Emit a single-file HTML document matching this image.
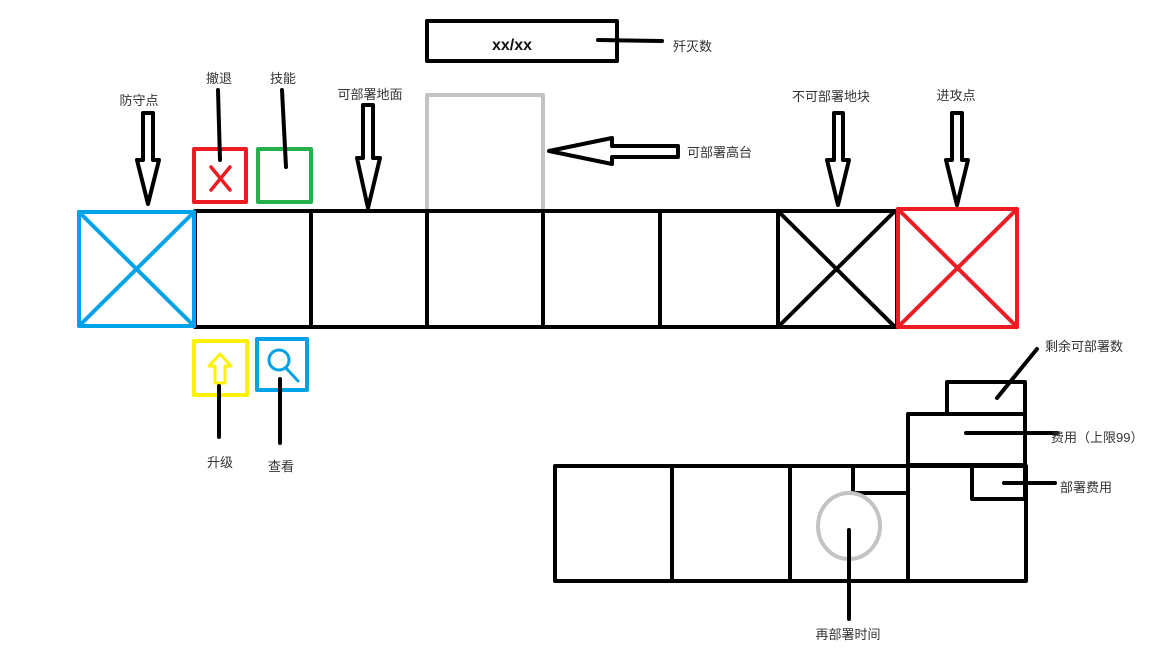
<!DOCTYPE html>
<html><head><meta charset="utf-8"><style>
html,body{margin:0;padding:0;background:#fff;width:1152px;height:648px;overflow:hidden}
text{font-family:"Liberation Sans","Noto Sans CJK SC",sans-serif;font-size:13px;fill:#333}
</style></head><body>
<svg width="1152" height="648" viewBox="0 0 1152 648">
<g fill="none" stroke-linecap="round" stroke-linejoin="round">
<!-- kill counter -->
<rect x="427" y="21" width="190" height="40" stroke="#000" stroke-width="4"/>
<line x1="598" y1="40" x2="662" y2="41" stroke="#000" stroke-width="4"/>
<!-- high platform -->
<rect x="427" y="95" width="116" height="116" stroke="#c3c3c3" stroke-width="4"/>
<polygon points="549,151 612,138 612,146 678,146 678,157 612,157 612,164" stroke="#000" stroke-width="4" fill="#fff"/>
<!-- main row -->
<g stroke="#000" stroke-width="4">
<rect x="195" y="211" width="702" height="116"/>
<line x1="311" y1="211" x2="311" y2="327"/><line x1="427" y1="211" x2="427" y2="327"/>
<line x1="543" y1="211" x2="543" y2="327"/><line x1="660" y1="211" x2="660" y2="327"/>
<line x1="778" y1="211" x2="778" y2="327"/>
<line x1="778" y1="211" x2="895" y2="327"/><line x1="895" y1="211" x2="778" y2="327"/>
</g>
<g stroke="#00a2e8" stroke-width="4">
<rect x="79" y="212" width="115" height="114"/><line x1="79" y1="212" x2="194" y2="326"/><line x1="194" y1="212" x2="79" y2="326"/>
</g>
<g stroke="#ed1c24" stroke-width="4">
<rect x="898" y="209" width="119" height="118"/><line x1="898" y1="209" x2="1017" y2="327"/><line x1="1017" y1="209" x2="898" y2="327"/>
</g>
<!-- buttons -->
<g stroke="#ed1c24" stroke-width="4">
<rect x="194" y="149" width="52" height="53"/><line x1="211" y1="167" x2="230" y2="190" stroke-width="3.5"/><line x1="230" y1="167" x2="211" y2="190" stroke-width="3.5"/>
</g>
<rect x="258" y="149" width="53" height="53" stroke="#22b14c" stroke-width="4"/>
<g stroke="#fff200" stroke-width="4">
<rect x="194" y="341" width="53" height="54"/><polygon points="220,354 231,366 225,366 225,383 215,383 215,366 209,366" stroke-width="3"/>
</g>
<g stroke="#00a2e8" stroke-width="4">
<rect x="257" y="339" width="50" height="51"/><circle cx="279" cy="360" r="10" stroke-width="3"/><line x1="286" y1="368" x2="298" y2="381" stroke-width="3"/>
</g>
<!-- pointer lines -->
<g stroke="#000" stroke-width="4">
<line x1="218" y1="90" x2="220" y2="160"/><line x1="282" y1="90" x2="286" y2="167"/>
<line x1="219" y1="386" x2="219" y2="437"/><line x1="280" y1="379" x2="280" y2="443"/>
</g>
<!-- down arrows -->
<g stroke="#000" stroke-width="4" fill="#fff">
<polygon points="143,113 153,113 153,160 159,160 148,204 137,160 143,160"/>
<polygon points="363,105 373,105 373,158 380,158 368,208 357,158 363,158"/>
<polygon points="834,113 843,113 843,160 849,160 838,205 827,160 834,160"/>
<polygon points="952,113 962,113 962,160 968,160 957,205 946,160 952,160"/>
</g>
<!-- bottom deploy panel -->
<g stroke="#000" stroke-width="4">
<rect x="555" y="466" width="471" height="115"/>
<line x1="672" y1="466" x2="672" y2="581"/><line x1="790" y1="466" x2="790" y2="581"/><line x1="908" y1="466" x2="908" y2="581"/>
<rect x="853" y="466" width="55" height="27"/>
<rect x="908" y="414" width="117" height="51"/>
<rect x="947" y="382" width="78" height="32"/>
<rect x="972" y="466" width="53" height="33"/>
</g>
<ellipse cx="849" cy="526" rx="31" ry="33" stroke="#c3c3c3" stroke-width="4"/>
<g stroke="#000" stroke-width="4">
<line x1="849" y1="530" x2="849" y2="619"/><line x1="997" y1="398" x2="1037" y2="349"/>
<line x1="966" y1="433" x2="1057" y2="433"/><line x1="1004" y1="483" x2="1055" y2="483"/>
</g>
</g>
<text x="512" y="50" text-anchor="middle" style="font-weight:bold;font-size:16px;fill:#111">xx/xx</text>
<text x="673" y="51">歼灭数</text>
<text x="219" y="83" text-anchor="middle">撤退</text>
<text x="283" y="83" text-anchor="middle">技能</text>
<text x="139" y="105" text-anchor="middle">防守点</text>
<text x="370" y="99" text-anchor="middle">可部署地面</text>
<text x="687" y="157">可部署高台</text>
<text x="831" y="101" text-anchor="middle">不可部署地块</text>
<text x="956" y="100" text-anchor="middle">进攻点</text>
<text x="220" y="467" text-anchor="middle">升级</text>
<text x="281" y="471" text-anchor="middle">查看</text>
<text x="1045" y="351">剩余可部署数</text>
<text x="1051" y="442">费用（上限99）</text>
<text x="1060" y="492">部署费用</text>
<text x="848" y="639" text-anchor="middle">再部署时间</text>
</svg>
</body></html>
